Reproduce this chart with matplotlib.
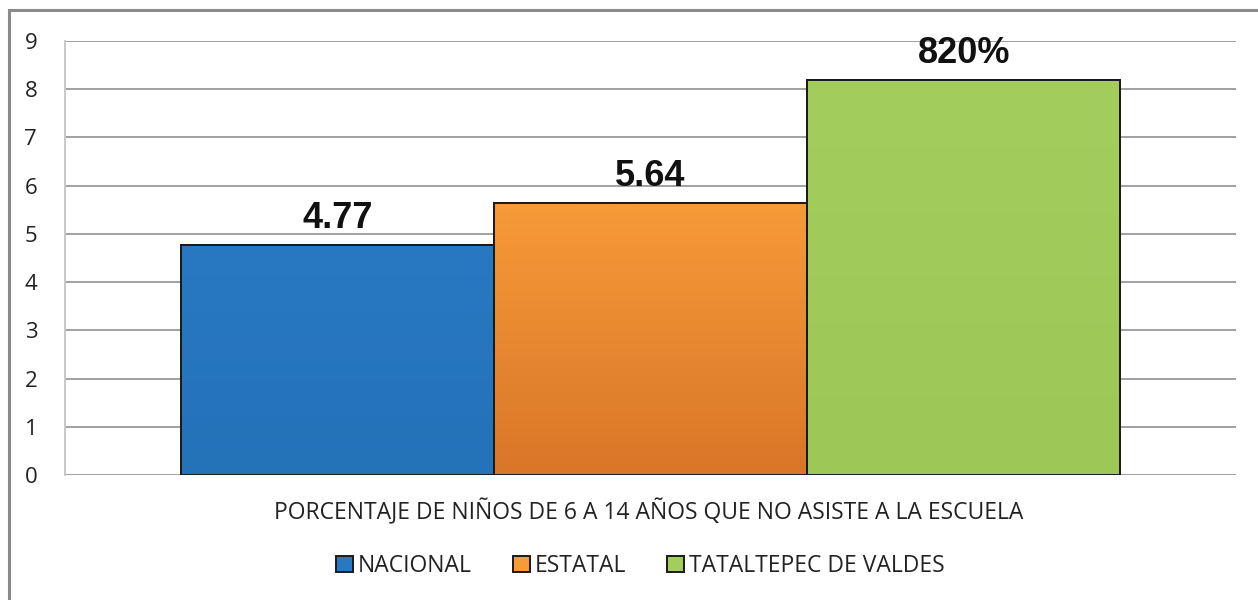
import numpy as np
import matplotlib.pyplot as plt
from matplotlib.patches import Rectangle
from matplotlib.colors import to_rgb

# data
category = 'PORCENTAJE DE NIÑOS DE 6 A 14 AÑOS QUE NO ASISTE A LA ESCUELA'
series = ['NACIONAL', 'ESTATAL', 'TATALTEPEC DE VALDES']
values = [4.77, 5.64, 8.20]
value_labels = ['4.77', '5.64', '820%']
top_colors = ['#2879C2', '#F79A38', '#A3CD5D']
bottom_colors = ['#2472B8', '#D97628', '#9DC855']
yticks = list(range(0, 10))

W, H = 1258, 600
fig = plt.figure(figsize=(W / 100, H / 100), dpi=100)
ax = fig.add_axes([65 / W, 1 - 475 / H, (1236 - 65) / W, (475 - 41) / H])

# outer chart frame (runs off the right and bottom edges)
fig.patches.append(Rectangle((9 / W, -0.05), 1.1, 1 - 10 / H + 0.05, transform=fig.transFigure,
                             fill=False, edgecolor='#8a8a8a', linewidth=2.2))

bw = 0.2675
offsets = (np.arange(len(series)) - 1) * bw
for off, v, c1, c2, lab, txt in zip(offsets, values, top_colors, bottom_colors, series, value_labels):
    bars = ax.bar(off, v, width=bw, color=c1, edgecolor='#1a1a1a', linewidth=1.4, label=lab, zorder=3)
    p = bars[0]
    # vertical gradient inside the bar
    t = np.linspace(0, 1, 100)[:, None]
    grad = (1 - t) * np.array(to_rgb(c1)) + t * np.array(to_rgb(c2))
    im = ax.imshow(grad[:, None, :], extent=[p.get_x(), p.get_x() + p.get_width(), 0, p.get_height()],
                   aspect='auto', origin='upper', zorder=3.1)
    im.set_clip_path(p)
    ax.bar(off, v, width=bw, fill=False, edgecolor='#1a1a1a', linewidth=1.4, zorder=3.2)
    ax.annotate(txt, (off, v), xytext=(0, 12), textcoords='offset points', ha='center', va='baseline',
                fontsize=26, fontweight='bold', family='Liberation Sans', color='#111111', zorder=4)

ax.set_xlim(-0.5, 0.5)
ax.set_ylim(0, 9)
ax.set_yticks(yticks)
ax.set_yticklabels([str(t) for t in yticks], family='Open Sans', fontsize=16, color='#222222')
ax.tick_params(axis='y', length=0, pad=20)
ax.set_xticks([])
ax.grid(axis='y', color='#a0a0a0', linewidth=1.4, zorder=0)
for s in ['top', 'right', 'bottom']:
    ax.spines[s].set_visible(False)
ax.spines['left'].set_color('#c8c8c8')
ax.spines['left'].set_linewidth(1.4)

fig.text(649 / W, 1 - 512 / H, category, ha='center', va='center', family='Open Sans',
         fontsize=16.5, color='#222222')

leg = ax.legend(loc='center', bbox_to_anchor=(640 / W, 1 - 566 / H), bbox_transform=fig.transFigure,
                ncol=3, frameon=False, prop={'family': 'Open Sans', 'size': 16.5}, handlelength=0.75,
                handleheight=0.75, handletextpad=0.2, columnspacing=1.8)
for t in leg.get_texts():
    t.set_color('#222222')

fig.savefig('out.png', dpi=100, facecolor='white')
